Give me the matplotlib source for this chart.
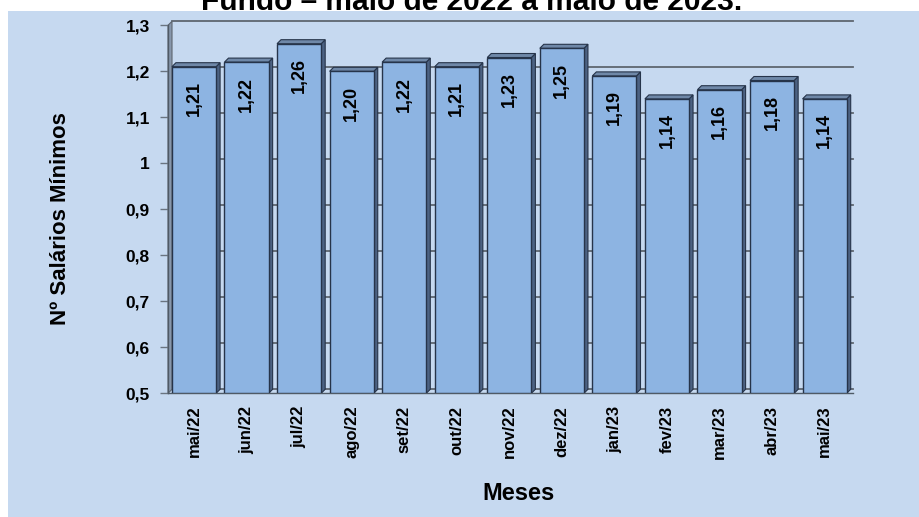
import numpy as np
import matplotlib.pyplot as plt
from matplotlib.patches import Polygon, Rectangle

plt.rcParams['font.family'] = ['Liberation Sans', 'DejaVu Sans']

# --- data ---
meses = ['mai/22', 'jun/22', 'jul/22', 'ago/22', 'set/22', 'out/22', 'nov/22',
         'dez/22', 'jan/23', 'fev/23', 'mar/23', 'abr/23', 'mai/23']
valores = [1.21, 1.22, 1.26, 1.20, 1.22, 1.21, 1.23, 1.25, 1.19, 1.14, 1.16, 1.18, 1.14]
y_ticks = [0.5, 0.6, 0.7, 0.8, 0.9, 1.0, 1.1, 1.2, 1.3]
y_labels = ['0,5', '0,6', '0,7', '0,8', '0,9', '1', '1,1', '1,2', '1,3']
titulo = 'Fundo – maio de 2022 a maio de 2023.'

# --- colours ---
fundo = '#C6D9F0'
cor_barra = '#8DB4E2'
cor_lado = '#4C6282'
cor_topo = '#6F88A8'
cor_borda = '#26344A'
cor_grade = '#5E6670'

W, H = 919, 517
fig = plt.figure(figsize=(W / 100, H / 100), dpi=100)
fig.add_artist(Rectangle((8 / W, 0), 1 - 8 / W, 1 - 11 / H, transform=fig.transFigure,
                         facecolor=fundo, edgecolor='none', zorder=0))

ax_l, ax_r, ax_t, ax_b = 168, 853, 25.3, 393.3
ax = fig.add_axes([ax_l / W, 1 - ax_b / H, (ax_r - ax_l) / W, (ax_b - ax_t) / H])
ax.set_facecolor('none')

x = np.arange(len(meses))
xmin, xmax = -0.495, 12.54
ymin, ymax = y_ticks[0], y_ticks[-1]
ax.set_xlim(xmin, xmax)
ax.set_ylim(ymin, ymax)

# 3d depth, 4 px converted to data units
ddx = 4 * (xmax - xmin) / (ax_r - ax_l)
ddy = 4 * (ymax - ymin) / (ax_b - ax_t)

# back wall grid + left wall
for yt in y_ticks:
    ax.plot([xmin + ddx, xmax], [yt + ddy, yt + ddy], color=cor_grade, lw=1.3,
            zorder=1, clip_on=False)
ax.add_patch(Polygon([(xmin, ymin), (xmin + ddx, ymin + ddy), (xmin + ddx, ymax + ddy),
                      (xmin, ymax)], closed=True, facecolor='#8797AC', edgecolor=cor_grade,
                     lw=0.8, zorder=1, clip_on=False))

# bars
largura = 0.84
ax.bar(x, np.array(valores) - ymin, bottom=ymin, width=largura, color=cor_barra,
       edgecolor=cor_borda, linewidth=1, zorder=3)
for xi, v in zip(x, valores):
    l, r = xi - largura / 2, xi + largura / 2
    ax.add_patch(Polygon([(r, ymin), (r, v), (r + ddx, v + ddy), (r + ddx, ymin + ddy)],
                         closed=True, facecolor=cor_lado, edgecolor=cor_borda, lw=0.8,
                         zorder=2.5, clip_on=False))
    ax.add_patch(Polygon([(l, v), (r, v), (r + ddx, v + ddy), (l + ddx, v + ddy)],
                         closed=True, facecolor=cor_topo, edgecolor=cor_borda, lw=0.8,
                         zorder=2.5, clip_on=False))
    ax.annotate(f'{v:.2f}'.replace('.', ','), (xi, v), xytext=(0, -10.5),
                textcoords='offset points', rotation=90, ha='center', va='top',
                fontsize=13, fontweight='bold', zorder=5)

# axes styling
for s in ['top', 'right']:
    ax.spines[s].set_visible(False)
for s in ['left', 'bottom']:
    ax.spines[s].set_color('#4F5A66')
    ax.spines[s].set_linewidth(1)
ax.set_yticks(y_ticks, y_labels, fontsize=12.5, fontweight='bold')
ax.set_xticks(x, meses, rotation=90, fontsize=12, fontweight='bold')
ax.tick_params(axis='y', direction='out', length=6, width=1, color='#6A7480', pad=7)
ax.tick_params(axis='x', length=0, pad=9)

fig.text(60 / W, 1 - 219 / H, 'Nº Salários Mínimos', rotation=90, ha='center',
         va='center', fontsize=16, fontweight='bold')
fig.text(519 / W, 1 - 494 / H, 'Meses', ha='center', va='center', fontsize=17,
         fontweight='bold')
fig.text(472 / W, 1 - 9.5 / H, titulo, ha='center', va='baseline', fontsize=21.5,
         fontweight='bold')

fig.savefig('out.png', dpi=100, facecolor='white')
